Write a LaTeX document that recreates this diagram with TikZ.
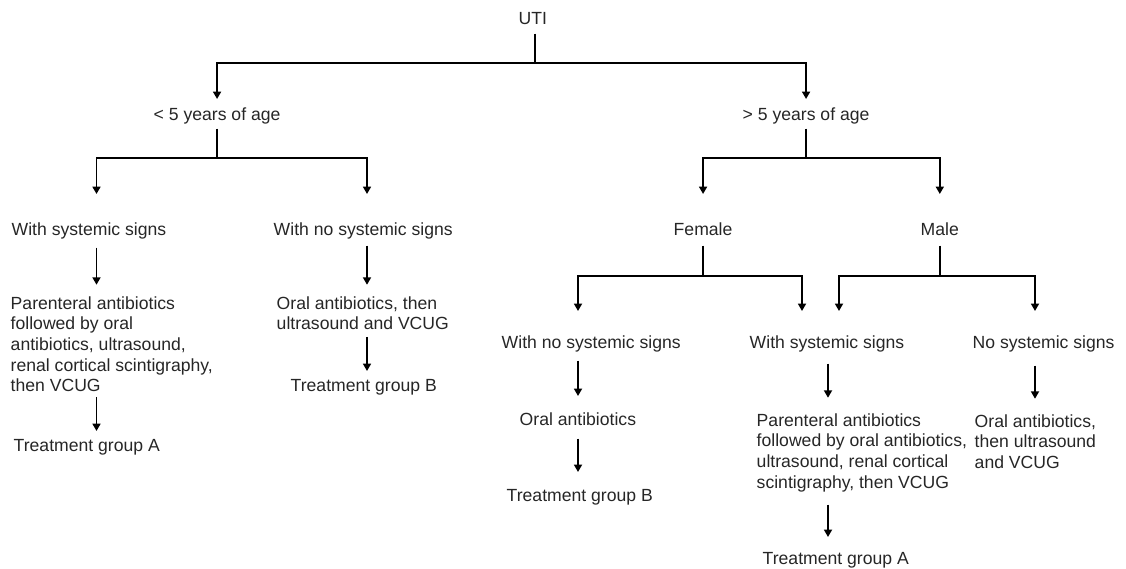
\documentclass[tikz,border=0pt]{standalone}
\usepackage{fontspec}
\setmainfont{Liberation Sans}
\usetikzlibrary{arrows.meta,calc}

\tikzset{
    lbl/.style={inner sep=0pt, anchor=base west, text height=8.6pt, text depth=2.5pt},
    blk/.style={inner sep=0pt, anchor=north west, align=left},
    arr/.style={-{Triangle[width=5.5pt,length=5pt]}},
}

\begin{document}
\begin{tikzpicture}[x=0.682pt, y=-0.682pt, line width=1pt, font=\fontsize{12pt}{14.1pt}\selectfont, text=black!85]
    \useasboundingbox (0,0) rectangle (1126,569);

    % Top levels
    \node[lbl] (uti) at (518, 24.3) {UTI};
    \node[lbl] (lt5) at (153, 120.3) {< 5 years of age};
    \node[lbl] (gt5) at (742, 120.3) {> 5 years of age};

    % Under 5 branch
    \node[lbl] (wss1) at (11, 235.3) {With systemic signs};
    \node[lbl] (wnss1) at (273, 235.3) {With no systemic signs};
    \node[blk] (par1) at (10, 295.7) {Parenteral antibiotics\\followed by oral\\antibiotics, ultrasound,\\renal cortical scintigraphy,\\then VCUG};
    \node[blk] (oral1) at (276, 295.7) {Oral antibiotics, then\\ultrasound and VCUG};
    \node[lbl] (trtA1) at (13, 451.3) {Treatment group A};
    \node[lbl] (trtB1) at (290, 391.3) {Treatment group B};

    % Over 5 branch
    \node[lbl] (fem) at (673, 235.3) {Female};
    \node[lbl] (male) at (920, 235.3) {Male};
    \node[lbl] (wnss2) at (501, 348.3) {With no systemic signs};
    \node[lbl] (wss2) at (749, 348.3) {With systemic signs};
    \node[lbl] (nss) at (972, 348.3) {No systemic signs};
    \node[lbl] (oral2) at (519, 425.3) {Oral antibiotics};
    \node[lbl] (trtB2) at (506, 501.3) {Treatment group B};
    \node[blk] (par2) at (756, 412.7) {Parenteral antibiotics\\followed by oral antibiotics,\\ultrasound, renal cortical\\scintigraphy, then VCUG};
    \node[blk] (oral3) at (974, 413.7) {Oral antibiotics,\\then ultrasound\\and VCUG};
    \node[lbl] (trtA2) at (762, 564.3) {Treatment group A};

    % Junctions and arrow columns
    \coordinate (j0) at (535, 63);
    \coordinate (j1) at (216, 158);
    \coordinate (j2) at (806, 158);
    \coordinate (j3) at (702, 276);
    \coordinate (j4) at (940, 276);
    \coordinate (cA) at (96.5, 0);
    \coordinate (cB) at (367, 0);
    \coordinate (cC) at (578, 0);
    \coordinate (cD) at (802, 0);
    \coordinate (cE) at (839, 0);
    \coordinate (cF) at (828, 0);
    \coordinate (cG) at (1035, 0);

    % UTI split
    \draw ($(uti.south -| j0)+(0,5)$) -- (j0);
    \draw[arr] (j0) -| ($(lt5.north)+(0,-8)$);
    \draw[arr] (j0) -| ($(gt5.north)+(0,-8)$);

    % Under 5
    \draw ($(lt5.south)+(0,4)$) |- (j1);
    \draw[arr] (j1) -| ($(wss1.north -| cA)+(0,-28)$);
    \draw[arr] (j1) -| ($(wnss1.north -| cB)+(0,-28)$);
    \draw[arr] ($(wss1.south -| cA)+(0,8)$) -- ($(par1.north -| cA)+(0,-11)$);
    \draw[arr] ($(par1.south -| cA)+(0,4)$) -- ($(trtA1.north -| cA)+(0,-7)$);
    \draw[arr] ($(wnss1.south -| cB)+(0,6)$) -- ($(oral1.north -| cB)+(0,-11)$);
    \draw[arr] ($(oral1.south -| cB)+(0,6)$) -- ($(trtB1.north -| cB)+(0,-7)$);

    % Over 5
    \draw ($(gt5.south)+(0,4)$) |- (j2);
    \draw[arr] (j2) -| ($(fem.north)+(0,-28)$);
    \draw[arr] (j2) -| ($(male.north)+(0,-28)$);

    % Female
    \draw ($(fem.south)+(0,6)$) |- (j3);
    \draw[arr] (j3) -| ($(wnss2.north -| cC)+(0,-24)$);
    \draw[arr] (j3) -| ($(wss2.north -| cD)+(0,-24)$);
    \draw[arr] ($(wnss2.south -| cC)+(0,8)$) -- ($(oral2.north -| cC)+(0,-16)$);
    \draw[arr] ($(oral2.south -| cC)+(0,9)$) -- ($(trtB2.north -| cC)+(0,-16)$);

    % Male
    \draw ($(male.south)+(0,6)$) |- (j4);
    \draw[arr] (j4) -| ($(wss2.north -| cE)+(0,-24)$);
    \draw[arr] (j4) -| ($(nss.north -| cG)+(0,-24)$);
    \draw[arr] ($(wss2.south -| cF)+(0,11)$) -- ($(par2.north -| cF)+(0,-15)$);
    \draw[arr] ($(par2.south -| cF)+(0,12)$) -- ($(trtA2.north -| cF)+(0,-14)$);
    \draw[arr] ($(nss.south -| cG)+(0,13)$) -- ($(oral3.north -| cG)+(0,-15)$);
\end{tikzpicture}
\end{document}
